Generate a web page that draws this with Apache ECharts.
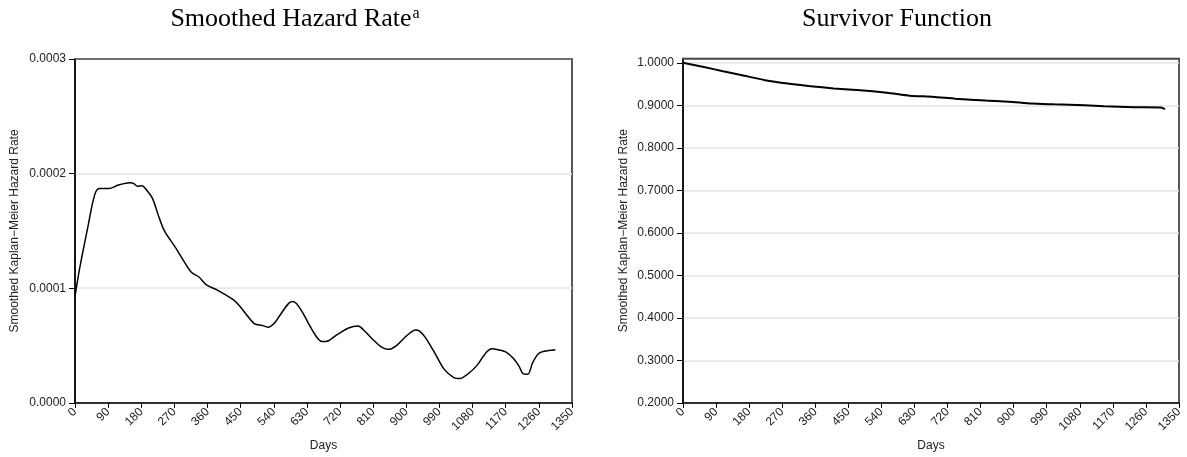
<!DOCTYPE html>
<html>
<head>
<meta charset="utf-8">
<script src="https://cdn.jsdelivr.net/npm/echarts@6/dist/echarts.min.js"></script>
<style>
html,body{margin:0;padding:0;background:#fff;}
#c{width:1187px;height:457px;}
</style>
</head>
<body>
<div id="c"></div>
<script>
// Hazard rate (left panel): days and smoothed hazard values
var hazardDays = [0,13,34,53,66,92,118,149,159,170,182,196,211,227,243,274,293,316,336,357,389,430,446,467,488,508,524,540,560,581,592,602,618,633,654,670,682,711,743,769,784,810,834,852,873,899,925,935,951,977,1003,1029,1045,1066,1092,1118,1133,1149,1170,1191,1206,1217,1230,1243,1258,1274,1305];
var hazardVals = [0.000093,0.000118,0.000152,0.000181,0.000187,0.000187,0.000190,0.000192,0.0001915,0.000189,0.0001895,0.000185,0.000178,0.000163,0.000150,0.000135,0.000125,0.000114,0.000110,0.000103,0.000098,0.000090,0.000085,0.0000765,0.000069,0.0000676,0.000066,0.000069,0.000078,0.000087,0.0000885,0.0000865,0.000079,0.000070,0.0000585,0.0000536,0.0000536,0.0000593,0.0000653,0.000067,0.0000636,0.000055,0.0000484,0.0000467,0.00005,0.000058,0.0000636,0.0000628,0.0000573,0.0000436,0.0000292,0.0000221,0.0000212,0.0000249,0.0000327,0.0000444,0.0000473,0.0000464,0.0000444,0.0000387,0.0000321,0.0000255,0.0000249,0.000035,0.0000427,0.000045,0.0000464];
// Survivor function (right panel)
var survDays = [0,57,109,161,223,285,347,410,472,555,617,679,741,824,887,949,1011,1094,1146,1229,1301,1312];
var survVals = [1.0,0.990,0.980,0.9705,0.959,0.951,0.945,0.9395,0.9357,0.9295,0.9225,0.920,0.9155,0.911,0.9085,0.904,0.9023,0.900,0.8977,0.8953,0.8946,0.891];
// Tick labels
var dayTicks = [0,90,180,270,360,450,540,630,720,810,900,990,1080,1170,1260,1350];
var hazardTicks = [0,0.0001,0.0002,0.0003];
var survTicks = [0.2,0.3,0.4,0.5,0.6,0.7,0.8,0.9,1.0];
var titles = ['Smoothed Hazard Rate', 'Survivor Function'];
var yName = 'Smoothed Kaplan\u2212Meier Hazard Rate';
var xName = 'Days';

function pairs(xs, ys){ return xs.map(function(x,i){ return [x, ys[i]]; }); }

var sans = 'Liberation Sans, Arial, sans-serif';
var serif = 'Liberation Serif, Times New Roman, serif';
var txt = '#222';

function xAxisCfg(gi){
  return {
    type:'value', gridIndex:gi, min:0, max:1350, interval:90,
    name:xName, nameLocation:'middle', nameGap:35,
    nameTextStyle:{fontFamily:sans,fontSize:12,color:txt},
    axisLine:{show:true,lineStyle:{color:'#000',width:1.5}},
    axisTick:{show:true,length:5,lineStyle:{color:'#000',width:1}},
    axisLabel:{rotate:45,fontFamily:sans,fontSize:12,color:txt,margin:7,
      customValues:dayTicks, formatter:function(v){return String(v);} },
    splitLine:{show:false}
  };
}
function topAxisCfg(gi){
  return {
    type:'value', gridIndex:gi, position:'top', min:0, max:1350,
    axisLine:{show:true,lineStyle:{color:'#555',width:1.5}},
    axisTick:{show:false}, axisLabel:{show:false}, splitLine:{show:false}
  };
}

var chart = echarts.init(document.getElementById('c'), null, {renderer:'canvas'});
chart.setOption({
  animation:false,
  backgroundColor:'#fff',
  title:[
    {text: titles[0] + '{sup|a}', left:295, top:6, textAlign:'center', padding:0,
     textStyle:{fontFamily:serif,fontSize:26,fontWeight:'normal',color:'#000',
       rich:{sup:{fontFamily:serif,fontSize:16,verticalAlign:'top',color:'#000',padding:[0,0,0,1]}}}},
    {text: titles[1], left:897, top:6, textAlign:'center', padding:0,
     textStyle:{fontFamily:serif,fontSize:26,fontWeight:'normal',color:'#000'}}
  ],
  grid:[
    {left:75, top:59, width:497, height:348, show:true, borderColor:'#222', borderWidth:1.5, backgroundColor:'transparent'},
    {left:683, top:58.5, width:496, height:349, show:true, borderColor:'#222', borderWidth:1.5, backgroundColor:'transparent'}
  ],
  xAxis:[xAxisCfg(0), xAxisCfg(1), topAxisCfg(0), topAxisCfg(1)],
  yAxis:[
    {type:'value', gridIndex:0, min:0, max:0.0003, interval:0.0001,
     name:yName, nameLocation:'middle', nameGap:54,
     nameTextStyle:{fontFamily:sans,fontSize:12,color:txt},
     axisLine:{show:true,lineStyle:{color:'#000',width:1.5}},
     axisTick:{show:true,length:6,lineStyle:{color:'#000',width:1}},
     axisLabel:{fontFamily:sans,fontSize:12,color:txt,margin:9,
       formatter:function(v){return v.toFixed(4);}},
     splitLine:{show:true,lineStyle:{color:'#e4e4e4',width:1.5}}},
    {type:'value', gridIndex:1, min:0.2, max:1.01, interval:0.1,
     name:yName, nameLocation:'middle', nameGap:53,
     nameTextStyle:{fontFamily:sans,fontSize:12,color:txt},
     axisLine:{show:true,lineStyle:{color:'#000',width:1.5}},
     axisTick:{show:true,length:6,customValues:survTicks,lineStyle:{color:'#000',width:1}},
     axisLabel:{fontFamily:sans,fontSize:12,color:txt,margin:9,customValues:survTicks,
       formatter:function(v){return v.toFixed(4);}},
     splitLine:{show:true,lineStyle:{color:'#e4e4e4',width:1.5}}}
  ],
  series:[
    {type:'line', xAxisIndex:0, yAxisIndex:0, data:pairs(hazardDays,hazardVals),
     smooth:0.3, showSymbol:false, lineStyle:{color:'#000',width:1.5}},
    {type:'line', xAxisIndex:1, yAxisIndex:1, data:pairs(survDays,survVals),
     smooth:0.2, showSymbol:false, lineStyle:{color:'#000',width:2}}
  ]
});
</script>
</body>
</html>
